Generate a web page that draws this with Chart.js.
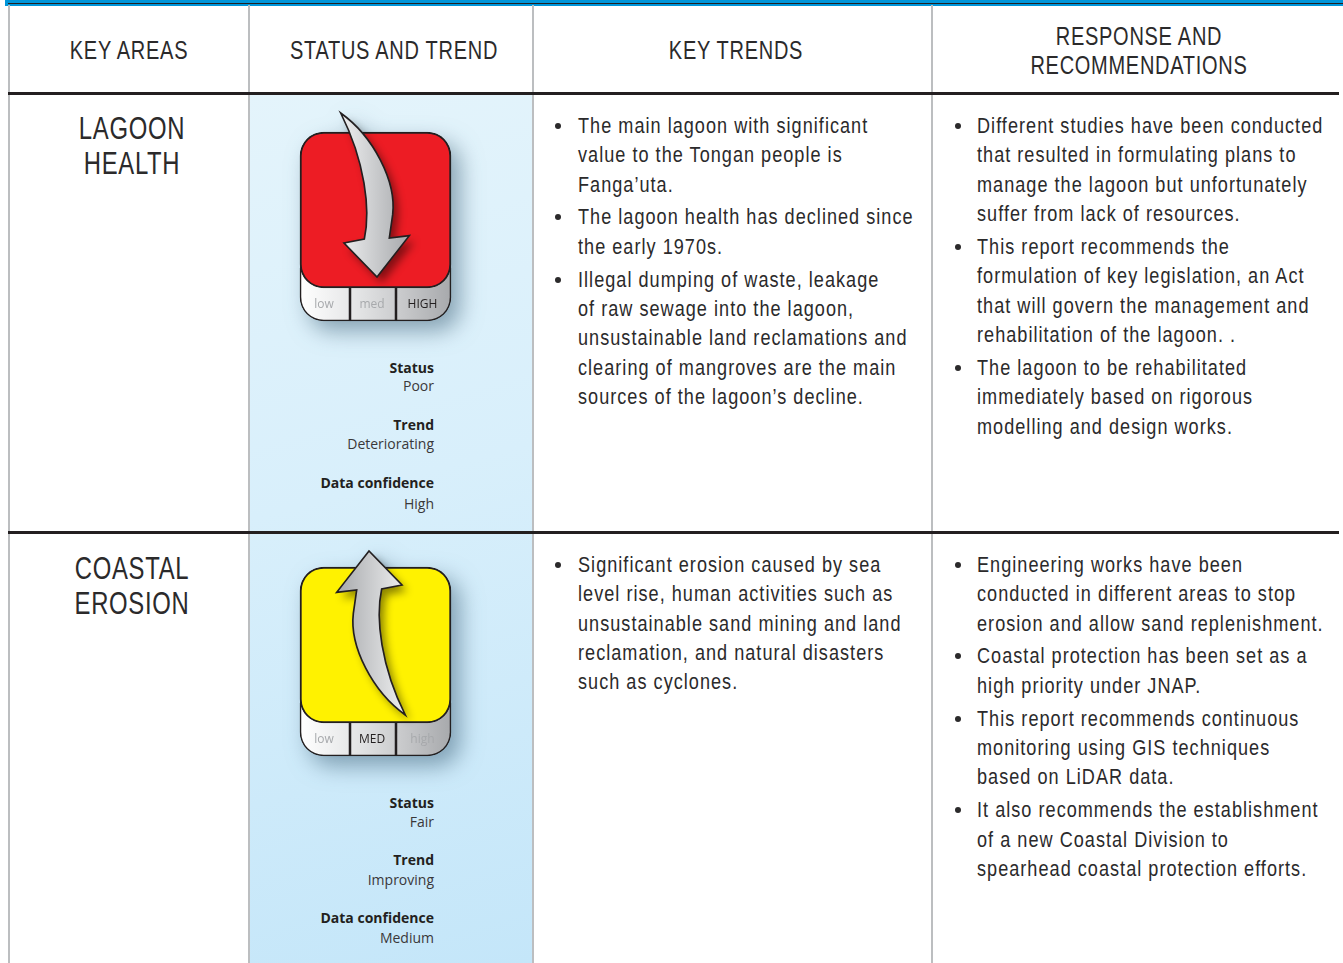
<!DOCTYPE html>
<html>
<head>
<meta charset="utf-8">
<title>Key areas</title>
<script src="https://cdn.jsdelivr.net/npm/chart.js@4/dist/chart.umd.min.js"></script>
<style>
html, body { margin: 0; padding: 0; background: #fff; }
#page { position: relative; width: 1343px; height: 963px; overflow: hidden; background: #fff; color: #2b2a2b; font-family: "Liberation Sans", sans-serif; }
#page div { position: absolute; white-space: nowrap; }
.rule { background: #231f20; }
.vline { background: #bcbec0; width: 2px; }
.blue { left: 249px; top: 94px; width: 284px; height: 869px; background: linear-gradient(165deg, #e4f4fb 0%, #d8effb 45%, #c4e6f9 100%); }
.head { font-size: 25px; letter-spacing: 0.9px; transform: translate(-50%, -50%) scaleX(.8); }
.area { font-size: 31px; letter-spacing: 0.9px; transform: translate(-50%, -50%) scaleX(.77); }
.line { font-size: 22px; letter-spacing: 1.25px; transform: translateY(-50%) scaleX(.822); transform-origin: left center; }
.dot { width: 6px; height: 6px; border-radius: 50%; background: #2b2a2b; transform: translateY(-50%); }
.note { font-family: "Open Sans", sans-serif; font-size: 14px; color: #3a3839; right: 909px; transform: translateY(-50%); }
.note.b { font-weight: 700; color: #231f20; }
canvas { position: absolute; filter: drop-shadow(9px 10px 11px rgba(50, 85, 110, .5)); }
</style>
</head>
<body>
<div id="page"></div>
<script>
// status cards
const rows = ['tile', 'scale'];
const scaleNames = ['low', 'med', 'high'];
const bandLow = [null, 50];
const bandMed = [null, 46];
const bandHigh = [null, 55];
const tileSpan = [151];
const tileColors = ['#ed1c24', '#fff200'];
const activeLevel = ['high', 'med'];
const arrowPos = [[75], [71]];
const arrowDirs = ['down', 'up'];
const arrowLift = [15, 12];

// table text
const headers = [['KEY AREAS'], ['STATUS AND TREND'], ['KEY TRENDS'], ['RESPONSE AND', 'RECOMMENDATIONS']];
const areaNames = [['LAGOON', 'HEALTH'], ['COASTAL', 'EROSION']];
const notes = [
	['Status', 'Poor', 'Trend', 'Deteriorating', 'Data confidence', 'High'],
	['Status', 'Fair', 'Trend', 'Improving', 'Data confidence', 'Medium'],
];
const trends1 = [
	['The main lagoon with significant', 'value to the Tongan people is', 'Fanga\u2019uta.'],
	['The lagoon health has declined since', 'the early 1970s.'],
	['Illegal dumping of waste, leakage', 'of raw sewage into the lagoon,', 'unsustainable land reclamations and', 'clearing of mangroves are the main', 'sources of the lagoon\u2019s decline.'],
];
const response1 = [
	['Different studies have been conducted', 'that resulted in formulating plans to', 'manage the lagoon but unfortunately', 'suffer from lack of resources.'],
	['This report recommends the', 'formulation of key legislation, an Act', 'that will govern the management and', 'rehabilitation of the lagoon. .'],
	['The lagoon to be rehabilitated', 'immediately based on rigorous', 'modelling and design works.'],
];
const trends2 = [
	['Significant erosion caused by sea', 'level rise, human activities such as', 'unsustainable sand mining and land', 'reclamation, and natural disasters', 'such as cyclones.'],
];
const response2 = [
	['Engineering works have been', 'conducted in different areas to stop', 'erosion and allow sand replenishment.'],
	['Coastal protection has been set as a', 'high priority under JNAP.'],
	['This report recommends continuous', 'monitoring using GIS techniques', 'based on LiDAR data.'],
	['It also recommends the establishment', 'of a new Coastal Division to', 'spearhead coastal protection efforts.'],
];

const page = document.getElementById('page');

const addDiv = (cls, css, text) => {
	const d = document.createElement('div');
	d.className = cls;
	d.style.cssText = css;
	if (text) d.textContent = text;
	page.appendChild(d);
	return d;
};

const addList = (groups, dotX, textX, top) => {
	let y = top;
	groups.forEach(lines => {
		addDiv('dot', `left:${dotX}px;top:${y}px`);
		lines.forEach(txt => {
			addDiv('line', `left:${textX}px;top:${y}px`, txt);
			y += 29.4;
		});
		y += 3.4;
	});
};

const buildTable = () => {
	addDiv('', 'left:5px;top:0;width:1338px;height:6px;background:#0095d9');
	addDiv('rule', 'left:8px;top:3px;width:1335px;height:1px');
	addDiv('blue', '');
	[8, 248, 532, 931].forEach(x => addDiv('vline', `left:${x}px;top:5px;height:958px`));
	addDiv('rule', 'left:8px;top:92px;width:1331px;height:3px');
	addDiv('rule', 'left:8px;top:531px;width:1331px;height:3px');

	addDiv('head', 'left:128.5px;top:50px', headers[0][0]);
	addDiv('head', 'left:394px;top:50px', headers[1][0]);
	addDiv('head', 'left:736px;top:50px', headers[2][0]);
	addDiv('head', 'left:1139px;top:36px', headers[3][0]);
	addDiv('head', 'left:1139px;top:65px', headers[3][1]);

	[[129, 164], [569, 604]].forEach((ys, i) => {
		ys.forEach((y, j) => addDiv('area', `left:132px;top:${y}px`, areaNames[i][j]));
	});

	[[366.5, 385, 424, 443, 482, 502.5], [801.5, 821, 859, 879, 917, 937]].forEach((ys, i) => {
		ys.forEach((y, j) => addDiv(j % 2 ? 'note' : 'note b', `top:${y}px`, notes[i][j]));
	});

	addList(trends1, 555, 578, 125.8);
	addList(response1, 955, 977, 125.8);
	addList(trends2, 555, 578, 564.8);
	addList(response2, 955, 977, 564.8);
};

// the curved arrow, used as a point style
const makeArrow = (dir, lift) => {
	const c = document.createElement('canvas');
	c.width = 240;
	c.height = 420;
	const g = c.getContext('2d');
	g.translate(120, 210 - lift);
	if (dir === 'up') g.rotate(Math.PI);
	g.scale(1 / 3, 1 / 3);
	g.translate(-375, -301);
	g.beginPath();
	g.moveTo(272, 55);
	g.bezierCurveTo(370, 125, 440, 260, 428, 360);
	g.lineTo(418, 430);
	g.lineTo(478, 423);
	g.lineTo(381, 547);
	g.lineTo(282, 445);
	g.lineTo(343, 433);
	g.bezierCurveTo(362, 345, 345, 200, 272, 55);
	g.closePath();
	const fill = g.createLinearGradient(290, 0, 470, 0);
	fill.addColorStop(0, '#e8e9ea');
	fill.addColorStop(1, '#a9abae');
	g.save();
	g.shadowColor = 'rgba(0,0,0,.45)';
	g.shadowBlur = 8;
	g.shadowOffsetX = 5;
	g.shadowOffsetY = 6;
	g.fillStyle = fill;
	g.fill();
	g.restore();
	g.lineWidth = 5;
	g.strokeStyle = '#231f20';
	g.stroke();
	return c;
};

const bandFill = ctx => {
	const { chart } = ctx;
	const xs = chart.scales.x;
	if (!xs || !Number.isFinite(xs.left) || !Number.isFinite(xs.right)) return '#ddd';
	const grad = chart.ctx.createLinearGradient(xs.left, 0, xs.right, 0);
	grad.addColorStop(0, '#ffffff');
	grad.addColorStop(0.4, '#e2e3e4');
	grad.addColorStop(0.7, '#c6c7c9');
	grad.addColorStop(1, '#a7a9ac');
	return grad;
};

const bandLabels = {
	id: 'bandLabels',
	afterDatasetsDraw(chart, args, opts) {
		const { ctx } = chart;
		ctx.save();
		ctx.font = '12px "Open Sans", sans-serif';
		ctx.textAlign = 'center';
		ctx.textBaseline = 'middle';
		scaleNames.forEach((name, i) => {
			const bar = chart.getDatasetMeta(i + 1).data[1];
			const on = name === opts.active;
			ctx.fillStyle = on ? '#231f20' : '#a7a9ac';
			ctx.fillText(on ? name.toUpperCase() : name, (bar.x + bar.base) / 2 - 1, bar.y + 10.5);
		});
		ctx.restore();
	}
};

const corner = 24;

const drawCard = (i, top) => {
	const canvas = document.createElement('canvas');
	canvas.width = 200;
	canvas.height = 240;
	canvas.style.left = '285px';
	canvas.style.top = top + 'px';
	page.appendChild(canvas);
	const bandCommon = {
		stack: 'card',
		order: 2,
		clip: false,
		barThickness: 53,
		backgroundColor: bandFill,
		borderColor: '#231f20',
		borderWidth: 1.6,
		borderSkipped: false,
	};
	return new Chart(canvas.getContext('2d'), {
		type: 'bar',
		plugins: [bandLabels],
		data: {
			labels: rows,
			datasets: [
				{
					label: 'status',
					data: tileSpan,
					stack: 'card',
					order: 1,
					clip: false,
					barThickness: 156,
					backgroundColor: tileColors[i],
					borderColor: '#231f20',
					borderWidth: 2,
					borderSkipped: false,
					borderRadius: { topLeft: corner, topRight: corner, bottomLeft: corner, bottomRight: corner },
				},
				{ ...bandCommon, label: scaleNames[0], data: bandLow, borderRadius: { topLeft: 0, topRight: 0, bottomLeft: corner, bottomRight: 0 } },
				{ ...bandCommon, label: scaleNames[1], data: bandMed },
				{ ...bandCommon, label: scaleNames[2], data: bandHigh, borderRadius: { topLeft: 0, topRight: 0, bottomLeft: 0, bottomRight: corner } },
				{
					type: 'line',
					label: 'trend',
					data: arrowPos[i],
					order: 0,
					clip: false,
					showLine: false,
					pointStyle: makeArrow(arrowDirs[i], arrowLift[i]),
				},
			]
		},
		options: {
			indexAxis: 'y',
			responsive: false,
			animation: false,
			// chart area runs from the middle of the tile to the middle of the scale row
			layout: { padding: { left: 15, right: 34, top: 110, bottom: 45.5 } },
			scales: {
				x: { type: 'linear', stacked: true, min: 0, max: 151, display: false },
				y: { type: 'category', stacked: true, offset: false, display: false },
			},
			plugins: {
				legend: { display: false },
				tooltip: { enabled: false },
				bandLabels: { active: activeLevel[i] },
			},
		}
	});
};

//#region main
buildTable();
drawCard(0, 100);
drawCard(1, 535);
//#endregion main
</script>
</body>
</html>
